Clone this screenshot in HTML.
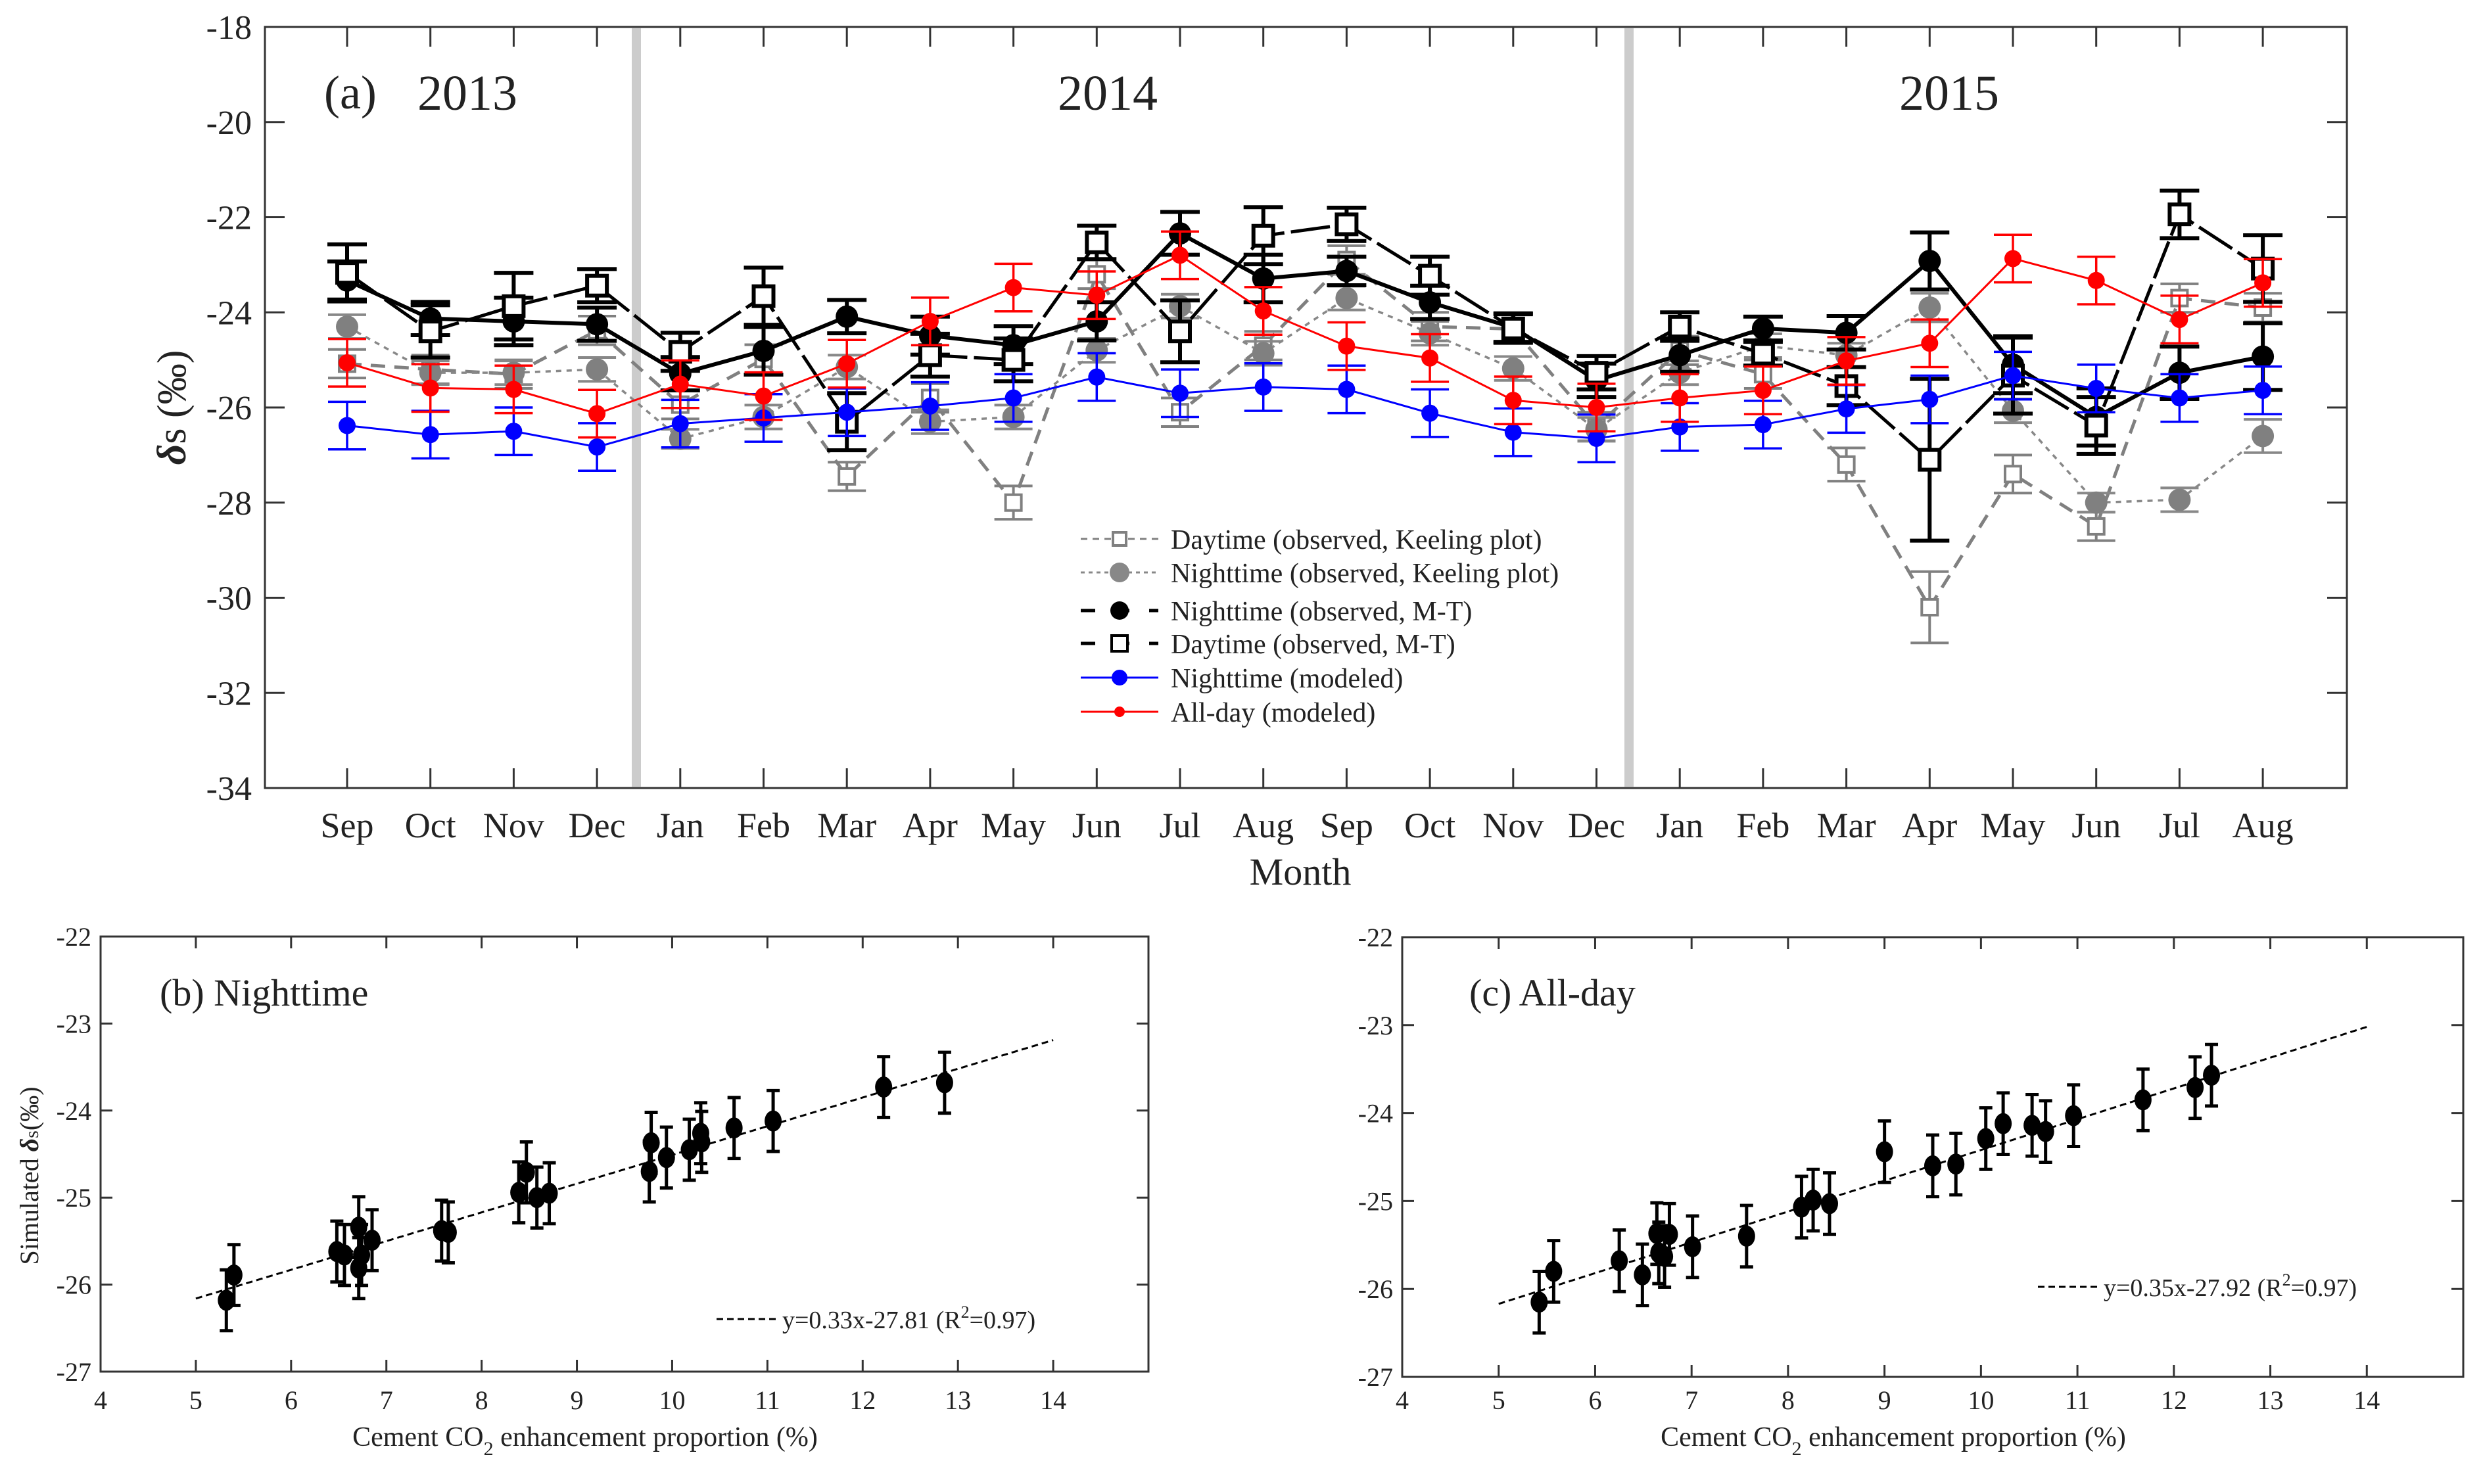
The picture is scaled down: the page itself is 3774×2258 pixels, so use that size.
<!DOCTYPE html>
<html><head><meta charset="utf-8"><style>
html,body{margin:0;padding:0;background:#fff}
svg{display:block}
text{font-family:"Liberation Serif",serif;fill:#222}
</style></head><body>
<svg id="fig" xmlns="http://www.w3.org/2000/svg" width="3774" height="2258" viewBox="0 0 3774 2258">
<g id="pa"></g>
<g id="pb"></g>
<g id="pc"></g>
</svg>
<script>
const months = ["Sep","Oct","Nov","Dec","Jan","Feb","Mar","Apr","May","Jun","Jul","Aug","Sep","Oct","Nov","Dec","Jan","Feb","Mar","Apr","May","Jun","Jul","Aug"];
const yTicksA = [-18,-20,-22,-24,-26,-28,-30,-32,-34];
const dayKP = [-25.08,-25.2,-25.3,-24.38,-25.94,-24.98,-27.45,-25.8,-28.0,-23.2,-26.1,-24.7,-22.9,-24.3,-24.35,-26.4,-24.8,-25.3,-27.2,-30.2,-27.4,-28.5,-23.7,-23.9];
const dayKPErr = [0.3,0.3,0.3,0.3,0.3,0.3,0.3,0.3,0.35,0.3,0.3,0.3,0.3,0.3,0.3,0.3,0.3,0.3,0.35,0.75,0.4,0.3,0.3,0.3];
const nightKP = [-24.3,-25.27,-25.27,-25.2,-26.66,-26.2,-25.15,-26.3,-26.2,-24.8,-23.87,-24.86,-23.7,-24.44,-25.18,-26.46,-25.27,-24.7,-24.9,-23.9,-26.07,-28.0,-27.94,-26.6];
const nightKPErr = [0.25,0.25,0.25,0.25,0.2,0.25,0.25,0.25,0.25,0.25,0.25,0.25,0.25,0.25,0.25,0.25,0.25,0.25,0.25,0.3,0.25,0.2,0.25,0.35];
const nightMT = [-23.33,-24.13,-24.19,-24.25,-25.29,-24.81,-24.09,-24.49,-24.69,-24.19,-22.34,-23.29,-23.13,-23.79,-24.32,-25.43,-24.9,-24.34,-24.43,-22.92,-25.1,-26.2,-25.27,-24.93];
const nightMTErr = [0.4,0.35,0.5,0.35,0.35,0.5,0.35,0.4,0.4,0.4,0.45,0.5,0.3,0.35,0.3,0.35,0.35,0.25,0.35,0.6,0.6,0.6,0.55,0.7];
const dayMT = [-23.17,-24.4,-23.87,-23.44,-24.83,-23.66,-26.3,-24.9,-25.0,-22.53,-24.4,-22.39,-22.15,-23.23,-24.34,-25.27,-24.3,-24.87,-25.55,-27.1,-25.33,-26.38,-21.94,-23.08];
const dayMTErr = [0.6,0.55,0.7,0.35,0.4,0.6,0.6,0.45,0.45,0.35,0.65,0.6,0.35,0.4,0.3,0.35,0.3,0.25,0.4,1.7,0.8,0.6,0.5,0.7];
const nightMod = [-26.38,-26.57,-26.5,-26.83,-26.34,-26.22,-26.1,-25.97,-25.8,-25.36,-25.7,-25.57,-25.62,-26.12,-26.52,-26.65,-26.41,-26.36,-26.03,-25.83,-25.33,-25.6,-25.8,-25.64];
const allMod = [-25.06,-25.59,-25.62,-26.13,-25.51,-25.76,-25.08,-24.19,-23.48,-23.64,-22.8,-23.97,-24.71,-24.96,-25.85,-26.0,-25.8,-25.64,-25.02,-24.65,-22.87,-23.33,-24.15,-23.38];
const modErr = 0.5;

const bX = [5.32,5.4,6.48,6.56,6.71,6.74,6.71,6.85,7.58,7.65,8.39,8.47,8.58,8.71,9.76,9.78,9.94,10.18,10.3,10.31,10.65,11.06,12.22,12.86];
const bY = [-26.18,-25.89,-25.62,-25.66,-25.34,-25.66,-25.81,-25.49,-25.38,-25.4,-24.94,-24.71,-25.0,-24.95,-24.7,-24.37,-24.54,-24.45,-24.26,-24.36,-24.2,-24.12,-23.73,-23.68];
const cX = [5.42,5.57,6.25,6.49,6.64,6.66,6.72,6.77,7.01,7.57,8.14,8.26,8.43,9.0,9.5,9.74,10.05,10.23,10.53,10.67,10.96,11.68,12.22,12.39];
const cY = [-26.15,-25.8,-25.68,-25.84,-25.37,-25.59,-25.63,-25.38,-25.52,-25.4,-25.07,-24.99,-25.03,-24.44,-24.6,-24.58,-24.29,-24.12,-24.14,-24.21,-24.03,-23.85,-23.71,-23.57];
const scatErr = 0.35;
const xTicksBC = [4,5,6,7,8,9,10,11,12,13,14];
const yTicksBC = [-22,-23,-24,-25,-26,-27];

const NS = "http://www.w3.org/2000/svg";
function mk(parent, tag, attrs, txt){
  const e = document.createElementNS(NS, tag);
  for (const k in attrs) e.setAttribute(k, attrs[k]);
  if (txt !== undefined) e.textContent = txt;
  parent.appendChild(e);
  return e;
}

// ---------- Panel A ----------
const pa = document.getElementById('pa');
const AL=403, AR=3570, AT=41, AB=1199;
const ax = i => 528 + i*126.7;
const ay = v => AT + (-18 - v)*(AB-AT)/16;

let el;
el = mk(pa,'rect',{x:AL,y:AT,width:AR-AL,height:AB-AT,fill:'none',stroke:'#333','stroke-width':3});


[968,2478].forEach((x,k)=>{
  el = mk(pa,'rect',{x:x-7,y:AT+2,width:14,height:AB-AT-4,fill:'#cccccc'});
  
  
});
yTicksA.forEach(v=>{
  const y=ay(v);
  el = mk(pa,'line',{x1:AL,x2:AL+30,y1:y,y2:y,stroke:'#333','stroke-width':3});
  
  
  mk(pa,'line',{x1:AR-30,x2:AR,y1:y,y2:y,stroke:'#333','stroke-width':3});
  el = mk(pa,'text',{x:383,y:y+18,'font-size':52,'text-anchor':'end'}, String(v));
  
  
});
months.forEach((m,i)=>{
  const x=ax(i);
  mk(pa,'line',{x1:x,x2:x,y1:AT,y2:AT+30,stroke:'#333','stroke-width':3});
  el = mk(pa,'line',{x1:x,x2:x,y1:AB-30,y2:AB,stroke:'#333','stroke-width':3});
  
  
  el = mk(pa,'text',{x:x,y:1274,'font-size':54,'text-anchor':'middle'}, m);
  
  
});
el = mk(pa,'text',{x:1978,y:1346,'font-size':58,'text-anchor':'middle'},'Month');


el = mk(pa,'text',{x:0,y:0,'font-size':62,'text-anchor':'middle',transform:'translate(282,620) rotate(-90)'});


mk(el,'tspan',{'font-weight':'bold','font-style':'italic'},'δ');
mk(el,'tspan',{},'s (‰)');
el = mk(pa,'text',{x:493,y:165,'font-size':72},'(a)');


[['2013',711],['2014',1685],['2015',2965]].forEach(([t,x])=>{
  el = mk(pa,'text',{x:x,y:167,'font-size':76,'text-anchor':'middle'},t);
  
  
});

function seriesA(name, vals, errs, st){
  const g = mk(pa,'g',{});
  
  
  const pts = vals.map((v,i)=>ax(i)+','+ay(v)).join(' ');
  const ln = mk(g,'polyline',{points:pts,fill:'none',stroke:st.c,'stroke-width':st.w,'stroke-dasharray':st.dash||'none'});
  
  
  vals.forEach((v,i)=>{
    const e = Array.isArray(errs)?errs[i]:errs;
    const x=ax(i), y1=ay(v+e), y2=ay(v-e);
    const eb = mk(g,'path',{d:`M${x},${y1}V${y2}M${x-st.cap},${y1}H${x+st.cap}M${x-st.cap},${y2}H${x+st.cap}`,stroke:st.c,'stroke-width':st.ew,fill:'none'});
    
    
    let mkr;
    if (st.m==='sq') mkr = mk(g,'rect',{x:x-st.r,y:ay(v)-st.r,width:2*st.r,height:2*st.r,fill:'#fff',stroke:st.c,'stroke-width':st.mw});
    else mkr = mk(g,'circle',{cx:x,cy:ay(v),r:st.r,fill:st.fill||st.c});
    
    
  });
}
seriesA('daytime-keeling', dayKP, dayKPErr, {c:'#808080',w:5,dash:'22 14',ew:4,cap:29,m:'sq',r:12,mw:4});
seriesA('nighttime-keeling', nightKP, nightKPErr, {c:'#888888',w:3.5,dash:'8 8',ew:4,cap:29,m:'c',r:17,fill:'#808080'});
seriesA('nighttime-mt', nightMT, nightMTErr, {c:'#000',w:6,ew:6,cap:30,m:'c',r:17});
seriesA('daytime-mt', dayMT, dayMTErr, {c:'#000',w:5,dash:'60 10',ew:6,cap:30,m:'sq',r:15,mw:6});
seriesA('nighttime-modeled', nightMod, modErr, {c:'#0000ff',w:3,ew:3.5,cap:29,m:'c',r:13});
seriesA('allday-modeled', allMod, modErr, {c:'#ff0000',w:3,ew:3.5,cap:29,m:'c',r:13});

// legend
const lg = mk(pa,'g',{});


const legItems = [
  ['Daytime (observed, Keeling plot)','#808080','10 8',3,'sq',10,820],
  ['Nighttime (observed, Keeling plot)','#888','6 6',3,'c',15,871],
  ['Nighttime (observed, M-T)','#000','22 30',5,'c',14,929],
  ['Daytime (observed, M-T)','#000','22 30',5,'sq',12,979],
  ['Nighttime (modeled)','#0000ff','none',3,'c',12,1031],
  ['All-day (modeled)','#ff0000','none',3,'c',8,1083]
];
legItems.forEach(([t,c,d,w,m,r,y])=>{
  const g = mk(lg,'g',{});
  
  
  mk(g,'line',{x1:1644,x2:1762,y1:y,y2:y,stroke:c,'stroke-width':w,'stroke-dasharray':d});
  if (m==='sq') mk(g,'rect',{x:1703-r,y:y-r,width:2*r,height:2*r,fill:'#fff',stroke:c,'stroke-width':4});
  else mk(g,'circle',{cx:1703,cy:y,r:r,fill:c});
  mk(g,'text',{x:1781,y:y+15,'font-size':42},t);
});

// ---------- Scatter panels ----------
function scatter(gid, L, R, T, B, xs, ys, lab1, lab2, eq, eqx, eqy, slope, icpt, withYTitle){
  const g = document.getElementById(gid);
  const sx = v => L + (v-4)*(R-L)/11;
  const sy = v => T + (-22 - v)*(B-T)/5;
  let e = mk(g,'rect',{x:L,y:T,width:R-L,height:B-T,fill:'none',stroke:'#333','stroke-width':3});
  
  
  xTicksBC.forEach(v=>{
    const x=sx(v);
    mk(g,'line',{x1:x,x2:x,y1:B-18,y2:B,stroke:'#333','stroke-width':3});
    mk(g,'line',{x1:x,x2:x,y1:T,y2:T+18,stroke:'#333','stroke-width':3});
    e = mk(g,'text',{x:x,y:2144,'font-size':40,'text-anchor':'middle'},String(v));
    
    
  });
  yTicksBC.forEach(v=>{
    const y=sy(v);
    mk(g,'line',{x1:L,x2:L+18,y1:y,y2:y,stroke:'#333','stroke-width':3});
    mk(g,'line',{x1:R-18,x2:R,y1:y,y2:y,stroke:'#333','stroke-width':3});
    e = mk(g,'text',{x:L-14,y:y+14,'font-size':40,'text-anchor':'end'},String(v));
    
    
  });
  e = mk(g,'text',{x:(L+R)/2-60,y:2200,'font-size':42,'text-anchor':'middle'});
  
  
  mk(e,'tspan',{},'Cement CO');
  mk(e,'tspan',{dy:14,'font-size':30},'2');
  mk(e,'tspan',{dy:-14},' enhancement proportion (%)');
  if (withYTitle){
    e = mk(g,'text',{x:0,y:0,'font-size':40,'text-anchor':'middle',transform:'translate(58,1789) rotate(-90)'});
    
    
    mk(e,'tspan',{},'Simulated ');
    mk(e,'tspan',{'font-weight':'bold','font-style':'italic'},'δ');
    mk(e,'tspan',{'font-size':30},'s');
    mk(e,'tspan',{},'(‰)');
  }
  e = mk(g,'text',{x:lab1,y:1530,'font-size':58},lab2);
  
  
  e = mk(g,'line',{x1:sx(5),y1:sy(slope*5+icpt),x2:sx(14),y2:sy(slope*14+icpt),stroke:'#000','stroke-width':3,'stroke-dasharray':'10 6'});
  
  
  xs.forEach((xv,i)=>{
    const x=sx(xv), y=sy(ys[i]);
    const y1=sy(ys[i]+scatErr), y2=sy(ys[i]-scatErr);
    e = mk(g,'path',{d:`M${x},${y1}V${y2}M${x-10},${y1}H${x+10}M${x-10},${y2}H${x+10}`,stroke:'#000','stroke-width':5,fill:'none'});
    
    
    e = mk(g,'ellipse',{cx:x,cy:y,rx:13,ry:16,fill:'#000'});
    
    
  });
  const lgd = mk(g,'g',{});
  
  
  mk(lgd,'line',{x1:eqx-100,x2:eqx-10,y1:eqy-10,y2:eqy-10,stroke:'#000','stroke-width':3,'stroke-dasharray':'10 6'});
  const t = mk(lgd,'text',{x:eqx,y:eqy+4,'font-size':38});
  mk(t,'tspan',{},eq[0]);
  mk(t,'tspan',{dy:-16,'font-size':26},'2');
  mk(t,'tspan',{dy:16},eq[1]);
}
scatter('pb',153,1747,1425,2087,bX,bY,243,'(b) Nighttime',['y=0.33x-27.81 (R','=0.97)'],1190,2017,0.33,-27.81,true);
scatter('pc',2133,3747,1426,2095,cX,cY,2235,'(c) All-day',['y=0.35x-27.92 (R','=0.97)'],3200,1968,0.35,-27.92,false);
</script>
</body></html>
